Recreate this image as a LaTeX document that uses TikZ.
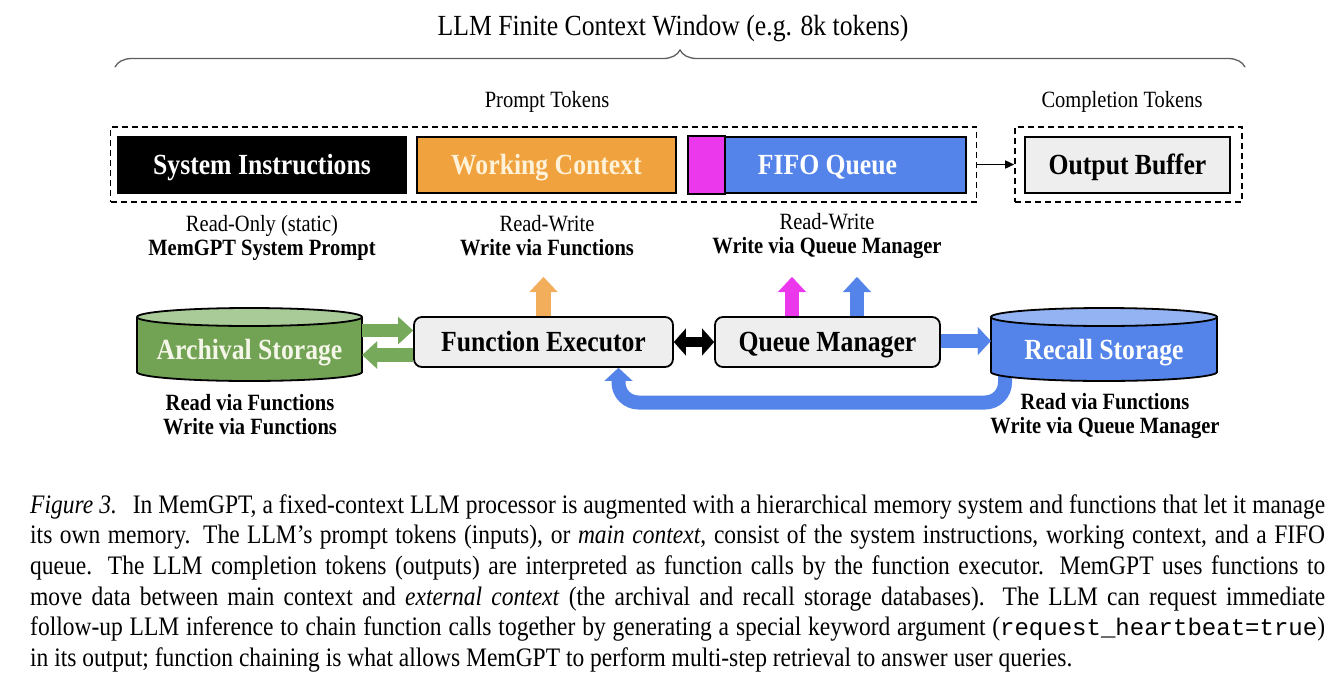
\documentclass[tikz,border=0pt]{standalone}
\usepackage{fontspec}
\setmainfont{Liberation Serif}[FakeStretch=0.88]
\setmonofont{Liberation Mono}[Scale=0.9]
\usetikzlibrary{arrows.meta,decorations.pathreplacing}

\definecolor{cOrange}{RGB}{240,162,62}
\definecolor{cOrangeA}{RGB}{243,174,92}
\definecolor{cMag}{RGB}{236,56,236}
\definecolor{cBlue}{RGB}{84,132,234}
\definecolor{cBlueTop}{RGB}{147,179,243}
\definecolor{cGreen}{RGB}{114,163,84}
\definecolor{cGreenTop}{RGB}{169,203,151}
\definecolor{cGreenA}{RGB}{119,169,90}
\definecolor{cGray}{RGB}{238,238,238}
\definecolor{cCream}{RGB}{255,242,216}
\definecolor{cCreamG}{RGB}{244,246,232}
\definecolor{cBrace}{RGB}{95,95,95}

\newcommand\boxfont{\fontsize{29.2pt}{34pt}\selectfont\bfseries}
\newcommand\lblfont{\fontsize{23.3pt}{24pt}\selectfont}
\newcommand\titlefont{\fontsize{29.2pt}{34pt}\selectfont}
\newcommand\capfont{\fontsize{26.7pt}{30.6pt}\selectfont}

\begin{document}
\begin{tikzpicture}[x=1pt,y=-1pt,
  tbox/.style={draw=black, line width=1.8pt, minimum height=56pt, inner sep=0pt, font=\boxfont, text height=19.3pt, text depth=0pt},
  rbox/.style={tbox, fill=cGray, rounded corners=8pt, minimum height=50pt},
  lbl/.style={font=\lblfont, align=center, inner sep=0pt},
  dbox/.style={draw=black, dash pattern=on 6pt off 4pt, line width=1.6pt, minimum height=75pt, inner sep=0pt},
  garrow/.style={draw=cGreenA, line width=13.5pt, -{Triangle[width=27.5pt,length=15pt,line width=0.1pt]}},
  barrow/.style={draw=cBlue, line width=14pt, -{Triangle[width=28pt,length=13pt,line width=0.1pt]}},
  uparrow/.style={line width=14.5pt, -{Triangle[width=28pt,length=15pt,line width=0.1pt]}},
  cyl/.style={font=\boxfont, minimum width=225pt, minimum height=73pt, inner sep=0pt, text height=19.3pt, text depth=0pt}
]
\useasboundingbox (0,0) rectangle (1334,694);

% title and brace
\node[font=\titlefont, inner sep=0pt] (title) at (673,28.5) {LLM Finite Context Window (e.g. 8k tokens)};
\draw[decorate, decoration={brace, amplitude=17pt}, line width=1.3pt, draw=cBrace] (115,67) -- (1245,67);

\node[font=\lblfont, inner sep=0pt] (ptok) at (547,102) {Prompt Tokens};
\node[font=\lblfont, inner sep=0pt] (ctok) at (1122,102) {Completion Tokens};

% dashed groups
\node[dbox, minimum width=866pt] (prompt) at (543.5,164.5) {};
\node[dbox, minimum width=227pt] (compl) at (1128.5,164.5) {};
\draw[line width=1.5pt, -{Triangle[width=8pt,length=9pt]}] (prompt.east) -- (compl.west);

% context boxes
\node[tbox, fill=black, text=white, minimum width=288pt] (sys) at (262,165) {System Instructions};
\node[tbox, fill=cOrange, text=cCream, minimum width=259pt] (wctx) at (546.5,165) {Working Context};
\node[tbox, fill=cBlue, text=white, minimum width=277pt] (fifo) at (827.5,165) {FIFO Queue};
\draw[fill=cMag, line width=1.8pt] (fifo.north west) rectangle ([xshift=37pt]fifo.south west);
\node[tbox, fill=cGray, text=black, minimum width=205pt] (obuf) at (1127.5,165) {Output Buffer};

% labels
\node[lbl] (l1) at (262,238.3) {Read-Only (static)\\\textbf{MemGPT System Prompt}};
\node[lbl] (l2) at (547,235.7) {Read-Write\\\textbf{Write via Functions}};
\node[lbl] (l3) at (827,236.3) {Read-Write\\\textbf{Write via Queue Manager}};

% processing boxes
\node[rbox, minimum width=259pt] (fe) at (543.5,342) {Function Executor};
\node[rbox, minimum width=225pt] (qm) at (827.5,342) {Queue Manager};

% loop arrow (drawn below recall cylinder)
\coordinate (lpS) at (1005,365);
\coordinate (lpY) at (0,402.5);
\coordinate (feIn) at ([xshift=75pt]fe.south);
\draw[barrow, rounded corners=20pt] (lpS) |- (feIn |- lpY) -- (feIn);

% archival cylinder
\fill[cGreen] (137,317) -- (137,372) arc[start angle=180,end angle=360,x radius=112.5pt,y radius=9pt] -- (362,317) -- cycle;
\draw[line width=1.8pt] (137,317) -- (137,372) arc[start angle=180,end angle=360,x radius=112.5pt,y radius=9pt] -- (362,317);
\draw[fill=cGreenTop, line width=1.8pt] (249.5,317) ellipse [x radius=112.5pt, y radius=9pt];
\node[cyl, text=cCreamG] (arch) at (249.5,344.5) {\raisebox{-5.5pt}{Archival Storage}};

% recall cylinder
\fill[cBlue] (991,317) -- (991,372) arc[start angle=180,end angle=360,x radius=113pt,y radius=9pt] -- (1217,317) -- cycle;
\draw[line width=1.8pt] (991,317) -- (991,372) arc[start angle=180,end angle=360,x radius=113pt,y radius=9pt] -- (1217,317);
\draw[fill=cBlueTop, line width=1.8pt] (1104,317) ellipse [x radius=113pt, y radius=9pt];
\node[cyl, text=white, minimum width=226pt] (rec) at (1104,344.5) {\raisebox{-5.5pt}{Recall Storage}};

% green arrows
\coordinate (gU) at (0,330.5);
\coordinate (gL) at (0,355);
\draw[garrow] (arch.east |- gU) -- (fe.west |- gU);
\draw[garrow] (fe.west |- gL) -- (arch.east |- gL);

% black double arrow
\draw[line width=10pt, {Triangle[width=27pt,length=12pt,line width=0.1pt]}-{Triangle[width=27pt,length=12pt,line width=0.1pt]}] (fe.east) -- (qm.west);

% blue arrow to recall
\coordinate (bR) at (0,341);
\draw[barrow] (qm.east |- bR) -- (rec.west |- bR);

% up arrows
\coordinate (topY) at (0,277);
\coordinate (qmM) at ([xshift=-35.5pt]qm.north);
\coordinate (qmB) at ([xshift=29.5pt]qm.north);
\draw[uparrow, draw=cOrangeA] (fe.north) -- (fe.north |- topY);
\draw[uparrow, draw=cMag] (qmM) -- (qmM |- topY);
\draw[uparrow, draw=cBlue] (qmB) -- (qmB |- topY);

% storage labels
\node[lbl, font=\lblfont\bfseries] (l4) at (250,414.7) {Read via Functions\\Write via Functions};
\node[lbl, font=\lblfont\bfseries] (l5) at (1105,416.3) {Read via Functions\\Write via Queue Manager};

% caption
\node[anchor=north west, inner sep=0pt, font=\capfont] (cap) at (30,494.3) {\vbox{\hsize=1295pt\parindent=0pt\baselineskip=30.6pt
\hbox to\hsize{\textit{Figure 3.}\hskip0.6em In MemGPT, a fixed-context LLM processor is augmented with a hierarchical memory system and functions that let it manage}
\hbox to\hsize{its own memory.  The LLM’s prompt tokens (inputs), or \textit{main context}, consist of the system instructions, working context, and a FIFO}
\hbox to\hsize{queue.  The LLM completion tokens (outputs) are interpreted as function calls by the function executor.  MemGPT uses functions to}
\hbox to\hsize{move data between main context and \textit{external context} (the archival and recall storage databases).  The LLM can request immediate}
\hbox to\hsize{follow-up LLM inference to chain function calls together by generating a special keyword argument ({\ttfamily request\_heartbeat=true})}
\hbox{in its output; function chaining is what allows MemGPT to perform multi-step retrieval to answer user queries.}}};
\end{tikzpicture}
\end{document}
